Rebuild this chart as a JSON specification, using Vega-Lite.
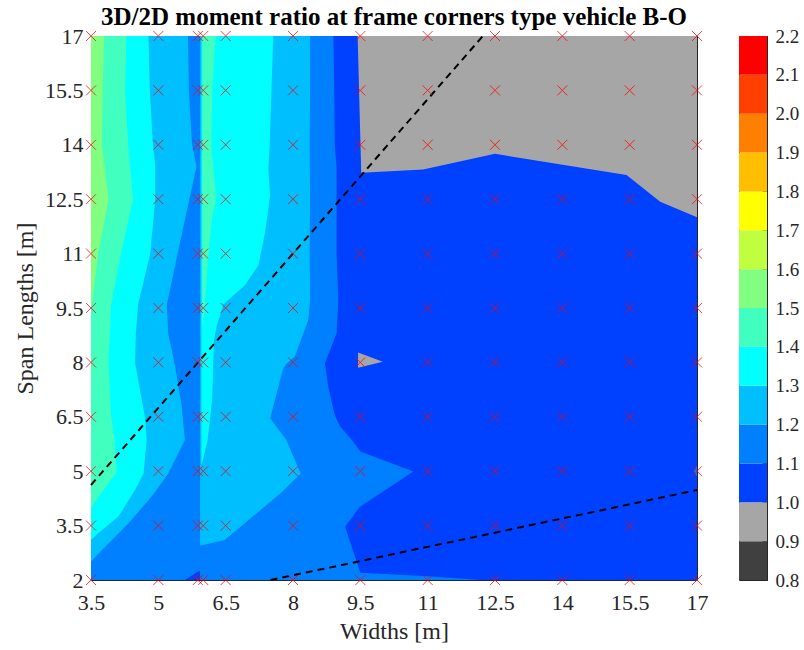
{
  "$schema": "https://vega.github.io/schema/vega-lite/v6.json",
  "background": "white",
  "padding": {"left": 13, "top": 5, "right": 0, "bottom": 0},
  "spacing": 30,
  "config": {
    "font": "Liberation Serif",
    "view": {"stroke": null},
    "axis": {"labelFont": "Liberation Serif", "titleFont": "Liberation Serif", "labelColor": "#262626", "titleColor": "#262626", "tickColor": "#262626", "domainColor": "#262626", "grid": false, "domain": true, "labelFlush": false, "labelOverlap": false, "titleFontWeight": "normal", "zindex": 1, "labelFontSize": 22, "titleFontSize": 24, "tickSize": -6, "labelPadding": 14, "titlePadding": 7}
  },
  "resolve": {"scale": {"color": "independent"}},
  "datasets": {
    "regions": [
      {"r":"a00","v":1.05,"y":2,"x0":3.5,"x1":17},{"r":"a00","v":1.05,"y":17,"x0":3.5,"x1":17},
      {"r":"a01","v":1.15,"y":2.0,"x0":3.5,"x1":12.17},{"r":"a01","v":1.15,"y":2.1,"x0":3.5,"x1":11.0},{"r":"a01","v":1.15,"y":2.2,"x0":3.5,"x1":9.5},{"r":"a01","v":1.15,"y":3.47,"x0":3.5,"x1":9.16},{"r":"a01","v":1.15,"y":4.02,"x0":3.5,"x1":9.49},{"r":"a01","v":1.15,"y":4.99,"x0":3.5,"x1":10.68},{"r":"a01","v":1.15,"y":5.54,"x0":3.5,"x1":9.5},{"r":"a01","v":1.15,"y":5.86,"x0":3.5,"x1":9.31},{"r":"a01","v":1.15,"y":6.23,"x0":3.5,"x1":9.05},{"r":"a01","v":1.15,"y":6.55,"x0":3.5,"x1":8.93},{"r":"a01","v":1.15,"y":7.3,"x0":3.5,"x1":8.79},{"r":"a01","v":1.15,"y":7.98,"x0":3.5,"x1":8.71},{"r":"a01","v":1.15,"y":8.8,"x0":3.5,"x1":8.97},{"r":"a01","v":1.15,"y":9.72,"x0":3.5,"x1":9.01},{"r":"a01","v":1.15,"y":11,"x0":3.5,"x1":8.97},{"r":"a01","v":1.15,"y":13.4,"x0":3.5,"x1":8.97},{"r":"a01","v":1.15,"y":14,"x0":3.5,"x1":8.93},{"r":"a01","v":1.15,"y":15.5,"x0":3.5,"x1":8.92},{"r":"a01","v":1.15,"y":17,"x0":3.5,"x1":8.9},
      {"r":"a02","v":1.05,"y":2.0,"x0":5.59,"x1":5.93},{"r":"a02","v":1.05,"y":2.25,"x0":5.9,"x1":5.93},
      {"r":"a03","v":1.25,"y":2.51,"x0":3.5,"x1":3.5},{"r":"a03","v":1.25,"y":2.82,"x0":3.5,"x1":3.74},{"r":"a03","v":1.25,"y":3.56,"x0":3.5,"x1":4.33},{"r":"a03","v":1.25,"y":4.3,"x0":3.5,"x1":4.85},{"r":"a03","v":1.25,"y":4.94,"x0":3.5,"x1":5.22},{"r":"a03","v":1.25,"y":5.86,"x0":3.5,"x1":5.59},{"r":"a03","v":1.25,"y":6.8,"x0":3.5,"x1":5.52},{"r":"a03","v":1.25,"y":7.9,"x0":3.5,"x1":5.37},{"r":"a03","v":1.25,"y":8.8,"x0":3.5,"x1":5.22},{"r":"a03","v":1.25,"y":9.6,"x0":3.5,"x1":5.19},{"r":"a03","v":1.25,"y":11,"x0":3.5,"x1":5.43},{"r":"a03","v":1.25,"y":12.5,"x0":3.5,"x1":5.69},{"r":"a03","v":1.25,"y":13.4,"x0":3.5,"x1":5.85},{"r":"a03","v":1.25,"y":14,"x0":3.5,"x1":5.75},{"r":"a03","v":1.25,"y":15.5,"x0":3.5,"x1":5.68},{"r":"a03","v":1.25,"y":17,"x0":3.5,"x1":5.66},
      {"r":"a04","v":1.25,"y":2.95,"x0":5.93,"x1":5.95},{"r":"a04","v":1.25,"y":3.1,"x0":5.93,"x1":6.48},{"r":"a04","v":1.25,"y":3.85,"x0":5.93,"x1":7.2},{"r":"a04","v":1.25,"y":4.42,"x0":5.93,"x1":7.75},{"r":"a04","v":1.25,"y":4.94,"x0":5.93,"x1":8.17},{"r":"a04","v":1.25,"y":5.86,"x0":5.93,"x1":7.85},{"r":"a04","v":1.25,"y":6.46,"x0":5.93,"x1":7.49},{"r":"a04","v":1.25,"y":7.83,"x0":5.93,"x1":7.78},{"r":"a04","v":1.25,"y":7.97,"x0":5.93,"x1":7.86},{"r":"a04","v":1.25,"y":8.16,"x0":5.93,"x1":8.04},{"r":"a04","v":1.25,"y":9.17,"x0":5.93,"x1":8.34},{"r":"a04","v":1.25,"y":9.72,"x0":5.93,"x1":8.38},{"r":"a04","v":1.25,"y":11,"x0":5.93,"x1":8.37},{"r":"a04","v":1.25,"y":12.5,"x0":5.93,"x1":8.38},{"r":"a04","v":1.25,"y":14,"x0":5.93,"x1":8.37},{"r":"a04","v":1.25,"y":15.5,"x0":5.93,"x1":8.38},{"r":"a04","v":1.25,"y":17,"x0":5.93,"x1":8.38},
      {"r":"a05","v":1.35,"y":3.1,"x0":3.5,"x1":3.5},{"r":"a05","v":1.35,"y":3.29,"x0":3.5,"x1":3.66},{"r":"a05","v":1.35,"y":3.75,"x0":3.5,"x1":4.11},{"r":"a05","v":1.35,"y":4.48,"x0":3.5,"x1":4.48},{"r":"a05","v":1.35,"y":4.94,"x0":3.5,"x1":4.67},{"r":"a05","v":1.35,"y":5.86,"x0":3.5,"x1":4.74},{"r":"a05","v":1.35,"y":6.5,"x0":3.5,"x1":4.7},{"r":"a05","v":1.35,"y":8.0,"x0":3.5,"x1":4.48},{"r":"a05","v":1.35,"y":8.8,"x0":3.5,"x1":4.5},{"r":"a05","v":1.35,"y":9.6,"x0":3.5,"x1":4.55},{"r":"a05","v":1.35,"y":11,"x0":3.5,"x1":4.82},{"r":"a05","v":1.35,"y":12.5,"x0":3.5,"x1":4.93},{"r":"a05","v":1.35,"y":13.44,"x0":3.5,"x1":4.93},{"r":"a05","v":1.35,"y":14,"x0":3.5,"x1":4.88},{"r":"a05","v":1.35,"y":15.5,"x0":3.5,"x1":4.81},{"r":"a05","v":1.35,"y":17,"x0":3.5,"x1":4.78},
      {"r":"a06","v":1.35,"y":5.2,"x0":5.96,"x1":5.97},{"r":"a06","v":1.35,"y":5.86,"x0":5.96,"x1":6.1},{"r":"a06","v":1.35,"y":7.0,"x0":5.96,"x1":6.2},{"r":"a06","v":1.35,"y":8.6,"x0":5.96,"x1":6.24},{"r":"a06","v":1.35,"y":9.0,"x0":5.96,"x1":6.3},{"r":"a06","v":1.35,"y":9.6,"x0":5.96,"x1":6.45},{"r":"a06","v":1.35,"y":10.13,"x0":5.96,"x1":6.93},{"r":"a06","v":1.35,"y":10.68,"x0":5.96,"x1":7.23},{"r":"a06","v":1.35,"y":11.6,"x0":5.96,"x1":7.38},{"r":"a06","v":1.35,"y":12.6,"x0":5.96,"x1":7.49},{"r":"a06","v":1.35,"y":13.3,"x0":5.96,"x1":7.45},{"r":"a06","v":1.35,"y":14,"x0":5.96,"x1":7.48},{"r":"a06","v":1.35,"y":15.5,"x0":5.96,"x1":7.52},{"r":"a06","v":1.35,"y":17,"x0":5.96,"x1":7.56},
      {"r":"a07","v":1.45,"y":4.0,"x0":3.5,"x1":3.5},{"r":"a07","v":1.45,"y":4.97,"x0":3.5,"x1":4.07},{"r":"a07","v":1.45,"y":5.86,"x0":3.5,"x1":4.03},{"r":"a07","v":1.45,"y":6.5,"x0":3.5,"x1":3.95},{"r":"a07","v":1.45,"y":8.0,"x0":3.5,"x1":3.89},{"r":"a07","v":1.45,"y":8.8,"x0":3.5,"x1":3.92},{"r":"a07","v":1.45,"y":9.6,"x0":3.5,"x1":3.95},{"r":"a07","v":1.45,"y":11,"x0":3.5,"x1":4.17},{"r":"a07","v":1.45,"y":12.5,"x0":3.5,"x1":4.44},{"r":"a07","v":1.45,"y":13.44,"x0":3.5,"x1":4.37},{"r":"a07","v":1.45,"y":14,"x0":3.5,"x1":4.33},{"r":"a07","v":1.45,"y":15.5,"x0":3.5,"x1":4.26},{"r":"a07","v":1.45,"y":17,"x0":3.5,"x1":4.29},
      {"r":"a08","v":1.45,"y":9.0,"x0":5.98,"x1":5.99},{"r":"a08","v":1.45,"y":9.7,"x0":5.98,"x1":6.04},{"r":"a08","v":1.45,"y":11,"x0":5.98,"x1":6.12},{"r":"a08","v":1.45,"y":12,"x0":5.98,"x1":6.2},{"r":"a08","v":1.45,"y":12.6,"x0":5.98,"x1":6.3},{"r":"a08","v":1.45,"y":13,"x0":5.98,"x1":6.25},{"r":"a08","v":1.45,"y":14,"x0":5.98,"x1":6.18},{"r":"a08","v":1.45,"y":15.5,"x0":5.98,"x1":6.2},{"r":"a08","v":1.45,"y":16.5,"x0":5.98,"x1":6.25},{"r":"a08","v":1.45,"y":17,"x0":5.98,"x1":6.28},
      {"r":"a09","v":1.55,"y":9.5,"x0":3.5,"x1":3.5},{"r":"a09","v":1.55,"y":9.6,"x0":3.5,"x1":3.52},{"r":"a09","v":1.55,"y":11,"x0":3.5,"x1":3.66},{"r":"a09","v":1.55,"y":12.5,"x0":3.5,"x1":3.89},{"r":"a09","v":1.55,"y":13.44,"x0":3.5,"x1":3.8},{"r":"a09","v":1.55,"y":14,"x0":3.5,"x1":3.74},{"r":"a09","v":1.55,"y":15.5,"x0":3.5,"x1":3.76},{"r":"a09","v":1.55,"y":17,"x0":3.5,"x1":3.79},
      {"r":"a10","v":1.15,"y":4.85,"x0":17,"x1":17},{"r":"a10","v":1.15,"y":5.0,"x0":16.93,"x1":17},{"r":"a10","v":1.15,"y":5.15,"x0":17,"x1":17}
    ],
    "gray": [
      {"r":"g1","v":0.95,"x":9.44,"y0":17,"y1":17},{"r":"g1","v":0.95,"x":9.52,"y0":13.23,"y1":17},{"r":"g1","v":0.95,"x":10.9,"y0":13.32,"y1":17},{"r":"g1","v":0.95,"x":12.5,"y0":13.75,"y1":17},{"r":"g1","v":0.95,"x":15.43,"y0":13.17,"y1":17},{"r":"g1","v":0.95,"x":16.18,"y0":12.43,"y1":17},{"r":"g1","v":0.95,"x":17,"y0":12.0,"y1":17},
      {"r":"g2","v":0.95,"x":9.45,"y0":7.85,"y1":8.27},{"r":"g2","v":0.95,"x":10.0,"y0":8.02,"y1":8.02}
    ],
    "lines": [
      {"l":"a","x":3.5,"y":4.62},{"l":"a","x":12.23,"y":17},
      {"l":"b","x":7.5,"y":2},{"l":"b","x":17,"y":4.48}
    ],
    "nodes": [
      {"x":3.5,"y":2},{"x":3.5,"y":3.5},{"x":3.5,"y":5},{"x":3.5,"y":6.5},{"x":3.5,"y":8},{"x":3.5,"y":9.5},{"x":3.5,"y":11},{"x":3.5,"y":12.5},{"x":3.5,"y":14},{"x":3.5,"y":15.5},{"x":3.5,"y":17},
      {"x":5,"y":2},{"x":5,"y":3.5},{"x":5,"y":5},{"x":5,"y":6.5},{"x":5,"y":8},{"x":5,"y":9.5},{"x":5,"y":11},{"x":5,"y":12.5},{"x":5,"y":14},{"x":5,"y":15.5},{"x":5,"y":17},
      {"x":5.88,"y":2},{"x":5.88,"y":3.5},{"x":5.88,"y":5},{"x":5.88,"y":6.5},{"x":5.88,"y":8},{"x":5.88,"y":9.5},{"x":5.88,"y":11},{"x":5.88,"y":12.5},{"x":5.88,"y":14},{"x":5.88,"y":15.5},{"x":5.88,"y":17},
      {"x":6,"y":2},{"x":6,"y":3.5},{"x":6,"y":5},{"x":6,"y":6.5},{"x":6,"y":8},{"x":6,"y":9.5},{"x":6,"y":11},{"x":6,"y":12.5},{"x":6,"y":14},{"x":6,"y":15.5},{"x":6,"y":17},
      {"x":6.5,"y":2},{"x":6.5,"y":3.5},{"x":6.5,"y":5},{"x":6.5,"y":6.5},{"x":6.5,"y":8},{"x":6.5,"y":9.5},{"x":6.5,"y":11},{"x":6.5,"y":12.5},{"x":6.5,"y":14},{"x":6.5,"y":15.5},{"x":6.5,"y":17},
      {"x":8,"y":2},{"x":8,"y":3.5},{"x":8,"y":5},{"x":8,"y":6.5},{"x":8,"y":8},{"x":8,"y":9.5},{"x":8,"y":11},{"x":8,"y":12.5},{"x":8,"y":14},{"x":8,"y":15.5},{"x":8,"y":17},
      {"x":9.5,"y":2},{"x":9.5,"y":3.5},{"x":9.5,"y":5},{"x":9.5,"y":6.5},{"x":9.5,"y":8},{"x":9.5,"y":9.5},{"x":9.5,"y":11},{"x":9.5,"y":12.5},{"x":9.5,"y":14},{"x":9.5,"y":15.5},{"x":9.5,"y":17},
      {"x":11,"y":2},{"x":11,"y":3.5},{"x":11,"y":5},{"x":11,"y":6.5},{"x":11,"y":8},{"x":11,"y":9.5},{"x":11,"y":11},{"x":11,"y":12.5},{"x":11,"y":14},{"x":11,"y":15.5},{"x":11,"y":17},
      {"x":12.5,"y":2},{"x":12.5,"y":3.5},{"x":12.5,"y":5},{"x":12.5,"y":6.5},{"x":12.5,"y":8},{"x":12.5,"y":9.5},{"x":12.5,"y":11},{"x":12.5,"y":12.5},{"x":12.5,"y":14},{"x":12.5,"y":15.5},{"x":12.5,"y":17},
      {"x":14,"y":2},{"x":14,"y":3.5},{"x":14,"y":5},{"x":14,"y":6.5},{"x":14,"y":8},{"x":14,"y":9.5},{"x":14,"y":11},{"x":14,"y":12.5},{"x":14,"y":14},{"x":14,"y":15.5},{"x":14,"y":17},
      {"x":15.5,"y":2},{"x":15.5,"y":3.5},{"x":15.5,"y":5},{"x":15.5,"y":6.5},{"x":15.5,"y":8},{"x":15.5,"y":9.5},{"x":15.5,"y":11},{"x":15.5,"y":12.5},{"x":15.5,"y":14},{"x":15.5,"y":15.5},{"x":15.5,"y":17},
      {"x":17,"y":2},{"x":17,"y":3.5},{"x":17,"y":5},{"x":17,"y":6.5},{"x":17,"y":8},{"x":17,"y":9.5},{"x":17,"y":11},{"x":17,"y":12.5},{"x":17,"y":14},{"x":17,"y":15.5},{"x":17,"y":17}
    ],
    "bar": [
      {"lo":0.8,"hi":0.9,"v":0.85},{"lo":0.9,"hi":1.0,"v":0.95},{"lo":1.0,"hi":1.1,"v":1.05},{"lo":1.1,"hi":1.2,"v":1.15},{"lo":1.2,"hi":1.3,"v":1.25},{"lo":1.3,"hi":1.4,"v":1.35},{"lo":1.4,"hi":1.5,"v":1.45},{"lo":1.5,"hi":1.6,"v":1.55},{"lo":1.6,"hi":1.7,"v":1.65},{"lo":1.7,"hi":1.8,"v":1.75},{"lo":1.8,"hi":1.9,"v":1.85},{"lo":1.9,"hi":2.0,"v":1.95},{"lo":2.0,"hi":2.1,"v":2.05},{"lo":2.1,"hi":2.2,"v":2.15}
    ]
  },
  "hconcat": [
    {
      "width": 606,
      "height": 544,
      "title": {"text": "3D/2D moment ratio at frame corners type vehicle B-O", "fontSize": 25, "fontWeight": "bold", "font": "Liberation Serif", "color": "#000000", "anchor": "middle", "offset": -5},
      "resolve": {"axis": {"x": "independent", "y": "independent"}},
      "layer": [
        {
          "data": {"name": "regions"},
          "mark": {"type": "area", "orient": "horizontal"},
          "encoding": {
            "y": {"field": "y", "type": "quantitative", "scale": {"domain": [2, 17], "nice": false, "zero": false}, "axis": {"orient": "left", "values": [2, 3.5, 5, 6.5, 8, 9.5, 11, 12.5, 14, 15.5, 17], "format": ".3~g", "title": "Span Lengths [m]"}},
            "x": {"field": "x0", "type": "quantitative", "stack": null, "scale": {"domain": [3.5, 17], "nice": false, "zero": false}, "axis": {"orient": "bottom", "values": [3.5, 5, 6.5, 8, 9.5, 11, 12.5, 14, 15.5, 17], "format": ".3~g", "title": "Widths [m]", "labelPadding": 18, "titlePadding": 6}},
            "x2": {"field": "x1"},
            "detail": {"field": "r", "type": "nominal"},
            "color": {"field": "v", "type": "quantitative", "scale": {"type": "threshold", "domain": [0.9, 1.0, 1.1, 1.2, 1.3, 1.4, 1.5, 1.6, 1.7, 1.8, 1.9, 2.0, 2.1], "range": ["#404040", "#a6a6a6", "#0040ff", "#0080ff", "#00bfff", "#00ffff", "#40ffbf", "#80ff80", "#bfff40", "#ffff00", "#ffbf00", "#ff8000", "#ff4000", "#ff0000"]}, "legend": null}
          }
        },
        {
          "data": {"name": "gray"},
          "mark": {"type": "area", "orient": "vertical"},
          "encoding": {
            "x": {"field": "x", "type": "quantitative", "axis": null},
            "y": {"field": "y0", "type": "quantitative", "stack": null, "axis": null},
            "y2": {"field": "y1"},
            "detail": {"field": "r", "type": "nominal"},
            "color": {"field": "v", "type": "quantitative", "scale": {"type": "threshold", "domain": [0.9, 1.0, 1.1, 1.2, 1.3, 1.4, 1.5, 1.6, 1.7, 1.8, 1.9, 2.0, 2.1], "range": ["#404040", "#a6a6a6", "#0040ff", "#0080ff", "#00bfff", "#00ffff", "#40ffbf", "#80ff80", "#bfff40", "#ffff00", "#ffbf00", "#ff8000", "#ff4000", "#ff0000"]}, "legend": null}
          }
        },
        {
          "data": {"name": "lines"},
          "mark": {"type": "line", "color": "#000000", "strokeWidth": 2, "strokeDash": [7, 5]},
          "encoding": {
            "x": {"field": "x", "type": "quantitative", "axis": null},
            "y": {"field": "y", "type": "quantitative", "axis": null},
            "detail": {"field": "l", "type": "nominal"}
          }
        },
        {
          "data": {"name": "nodes"},
          "mark": {"type": "point", "shape": "M-1,-1L1,1M-1,1L1,-1", "filled": false, "stroke": "#ff0000", "strokeWidth": 1, "size": 100, "opacity": 0.75},
          "encoding": {
            "x": {"field": "x", "type": "quantitative", "axis": {"orient": "top", "values": [3.5, 5, 6.5, 8, 9.5, 11, 12.5, 14, 15.5, 17], "labels": false, "title": null}},
            "y": {"field": "y", "type": "quantitative", "axis": {"orient": "right", "values": [2, 3.5, 5, 6.5, 8, 9.5, 11, 12.5, 14, 15.5, 17], "labels": false, "title": null}}
          }
        }
      ]
    },
    {
      "width": 28,
      "height": 544,
      "data": {"name": "bar"},
      "mark": {"type": "rect", "stroke": null},
      "view": {"stroke": "#262626", "strokeWidth": 1},
      "encoding": {
        "y": {"field": "lo", "type": "quantitative", "scale": {"domain": [0.8, 2.2], "nice": false, "zero": false}, "axis": {"orient": "right", "values": [0.8, 0.9, 1.0, 1.1, 1.2, 1.3, 1.4, 1.5, 1.6, 1.7, 1.8, 1.9, 2.0, 2.1, 2.2], "format": ".1f", "title": null, "labelFontSize": 19, "tickSize": -5, "labelPadding": 13}},
        "y2": {"field": "hi"},
        "x": {"datum": 0, "type": "quantitative", "scale": {"domain": [0, 1], "nice": false, "zero": false}, "axis": null},
        "x2": {"datum": 1},
        "color": {"field": "v", "type": "quantitative", "scale": {"type": "threshold", "domain": [0.9, 1.0, 1.1, 1.2, 1.3, 1.4, 1.5, 1.6, 1.7, 1.8, 1.9, 2.0, 2.1], "range": ["#404040", "#a6a6a6", "#0040ff", "#0080ff", "#00bfff", "#00ffff", "#40ffbf", "#80ff80", "#bfff40", "#ffff00", "#ffbf00", "#ff8000", "#ff4000", "#ff0000"]}, "legend": null}
      }
    }
  ]
}
